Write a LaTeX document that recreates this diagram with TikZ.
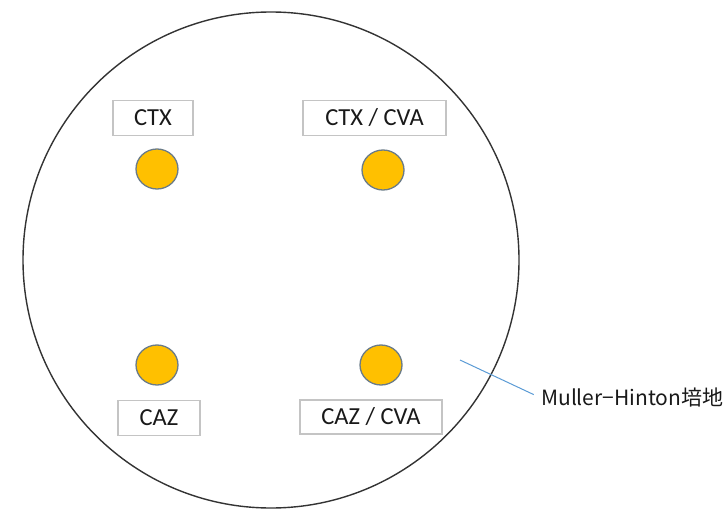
\documentclass[tikz,border=0pt]{standalone}
\usepackage{fontspec}
\setmainfont{Carlito}
\newfontfamily\jpfont{Noto Sans CJK JP}
\usetikzlibrary{shapes.geometric}
\definecolor{diskfill}{HTML}{FFC000}
\definecolor{diskedge}{HTML}{6A7B88}
\definecolor{boxedge}{HTML}{C4C4C4}
\definecolor{leader}{HTML}{5B9BD5}
\tikzset{
  disc/.style={ellipse, minimum width=42pt, minimum height=40pt, inner sep=0pt,
    fill=diskfill, draw=diskedge, line width=1.3pt},
  agentbox/.style={rectangle, draw=boxedge, line width=1.4pt, inner sep=0pt,
    font=\fontsize{24.5}{26}\selectfont, text=black!90},
  plate/.style={circle, draw=black!80, line width=1.4pt, inner sep=0pt, minimum size=496pt},
}
\begin{document}
\begin{tikzpicture}[x=1pt,y=-1pt]
  \useasboundingbox (0,0) rectangle (727,508);
  % agar plate
  \node[plate] (plate) at (271,260) {};
  % antibiotic discs
  \node[disc] (d1) at (157,169) {};
  \node[disc] (d2) at (383,170) {};
  \node[disc] (d3) at (157,365) {};
  \node[disc] (d4) at (381,365) {};
  % labels
  \node[agentbox, minimum width=80pt, minimum height=35pt] (l1) at (153,118) {CTX};
  \node[agentbox, minimum width=143pt, minimum height=35pt] (l2) at (374.5,118) {CTX / CVA};
  \node[agentbox, minimum width=82pt, minimum height=35pt] (l3) at (159,418) {CAZ};
  \node[agentbox, minimum width=142pt, minimum height=34pt] (l4) at (371,417) {CAZ / CVA};
  % medium callout
  \coordinate (tip) at (460,360);
  \node[anchor=west, inner sep=0pt, font=\jpfont\fontsize{21}{23}\selectfont, text=black!90] (mh) at (541,398) {Muller−Hinton培地};
  \draw[leader, line width=1pt, shorten >=8pt] (tip) -- (mh.west);
\end{tikzpicture}
\end{document}
